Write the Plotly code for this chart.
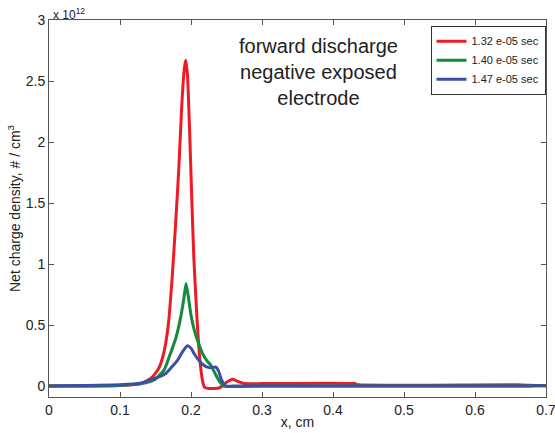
import plotly.graph_objects as go

# values in units of 1e12 #/cm^3
x_red = [0, 0.10, 0.13, 0.145, 0.155, 0.162, 0.168, 0.173, 0.178, 0.183, 0.187, 0.1905, 0.1925, 0.195, 0.198, 0.201, 0.204, 0.208, 0.212, 0.216, 0.219, 0.225, 0.24, 0.25, 0.258, 0.265, 0.275, 0.3, 0.43, 0.435, 0.66, 0.7]
y_red = [0, 0.005, 0.02, 0.07, 0.15, 0.28, 0.5, 0.85, 1.3, 1.8, 2.3, 2.6, 2.67, 2.55, 2.1, 1.55, 1.05, 0.6, 0.25, 0.05, -0.01, -0.02, -0.015, 0.03, 0.055, 0.04, 0.02, 0.02, 0.02, 0.01, 0.01, 0.0]

x_green = [0, 0.10, 0.13, 0.148, 0.162, 0.17, 0.179, 0.185, 0.1895, 0.193, 0.1965, 0.2, 0.205, 0.21, 0.216, 0.222, 0.228, 0.235, 0.241, 0.246, 0.3, 0.66, 0.7]
y_green = [0, 0.005, 0.02, 0.05, 0.13, 0.25, 0.4, 0.55, 0.7, 0.84, 0.72, 0.58, 0.45, 0.36, 0.27, 0.21, 0.17, 0.09, 0.03, 0.0, 0.0, 0.0, 0.005]

x_blue = [0, 0.10, 0.13, 0.143, 0.155, 0.164, 0.172, 0.181, 0.188, 0.195, 0.2, 0.205, 0.211, 0.218, 0.223, 0.228, 0.235, 0.239, 0.243, 0.249, 0.26, 0.66, 0.7]
y_blue = [0, 0.01, 0.025, 0.05, 0.075, 0.1, 0.15, 0.21, 0.28, 0.33, 0.31, 0.26, 0.21, 0.17, 0.155, 0.15, 0.155, 0.12, 0.05, 0.0, 0.0, 0.0, 0.005]

labels = ["1.32 e-05 sec", "1.40 e-05 sec", "1.47 e-05 sec"]
colors = ["#ED1C24", "#138A3C", "#3B4FA5"]

x_ticks = [0, 0.1, 0.2, 0.3, 0.4, 0.5, 0.6, 0.7]
x_ticktext = ["0", "0.1", "0.2", "0.3", "0.4", "0.5", "0.6", "0.7"]
y_ticks = [0, 0.5, 1, 1.5, 2, 2.5, 3]
y_ticktext = ["0", "0.5", "1", "1.5", "2", "2.5", "3"]

fig = go.Figure()
for xs, ys, lab, col in zip([x_red, x_green, x_blue], [y_red, y_green, y_blue], labels, colors):
    fig.add_trace(go.Scatter(x=xs, y=ys, mode="lines", name=lab,
                             line=dict(color=col, width=3, shape="spline", smoothing=0.5)))

axis_common = dict(showgrid=False, zeroline=False, showline=True, linecolor="#555555", linewidth=1,
                   mirror="ticks", ticks="inside", ticklen=5, tickcolor="#555555",
                   tickfont=dict(size=14, color="#222222"), automargin=False,
                   ticklabeloverflow="allow")

fig.update_layout(
    width=555, height=433,
    margin=dict(l=49, r=9, t=20, b=36),
    paper_bgcolor="white", plot_bgcolor="white",
    font=dict(family="Liberation Sans, Arial, sans-serif", color="#222222"),
    xaxis=dict(range=[0, 0.7], tickvals=x_ticks, ticktext=x_ticktext,
               title=dict(text="x, cm", font=dict(size=14), standoff=0), **axis_common),
    yaxis=dict(range=[-0.09, 3.0], tickvals=y_ticks, ticktext=y_ticktext,
               title=dict(text="Net charge density, # / cm<sup>3</sup>", font=dict(size=14), standoff=1),
               **axis_common),
    legend=dict(x=0.999, y=0.985, xanchor="right", yanchor="top", bgcolor="white",
                bordercolor="#333333", borderwidth=1, font=dict(size=11),
                tracegroupgap=0, itemwidth=30),
    showlegend=True,
)

fig.add_annotation(x=0.0, y=1.0, xref="paper", yref="paper", xanchor="left", yanchor="bottom",
                   text="x 10<sup>12</sup>", showarrow=False, font=dict(size=12), xshift=2, yshift=-4)
fig.add_annotation(x=0.379, y=2.57, xref="x", yref="y", xanchor="center", yanchor="middle",
                   text="forward discharge<br>negative exposed<br>electrode", showarrow=False,
                   font=dict(size=20), align="center")

fig.write_html("out.html", config={"displayModeBar": False},
               post_script="document.body.style.margin='0';document.body.style.padding='0';")
